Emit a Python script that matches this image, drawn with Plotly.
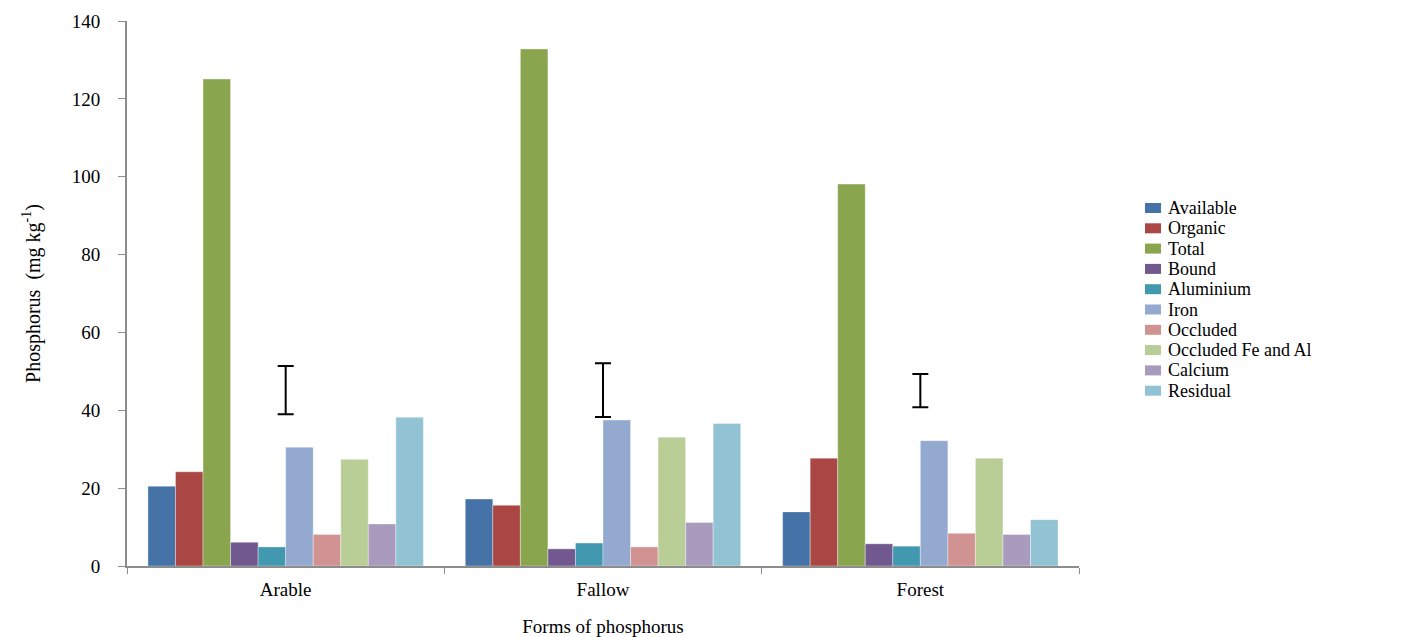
import plotly.graph_objects as go

# Land-use categories on the x axis
categories = ["Arable", "Fallow", "Forest"]

# Phosphorus forms (mg kg-1) for each land use
available = [20.5, 17.2, 13.9]
organic = [24.2, 15.6, 27.7]
total = [125.1, 132.8, 98.1]
bound = [6.1, 4.4, 5.7]
aluminium = [4.9, 5.9, 5.1]
iron = [30.5, 37.5, 32.2]
occluded = [8.1, 4.9, 8.4]
occluded_fe_al = [27.4, 33.1, 27.7]
calcium = [10.8, 11.2, 8.1]
residual = [38.2, 36.6, 11.9]

# Error bar drawn at each land-use centre (midpoint and half-range)
err_mid = [45.2, 45.2, 45.05]
err_half = [6.2, 6.9, 4.3]

series = [
    ("Available", available, "#4572A7"),
    ("Organic", organic, "#AA4643"),
    ("Total", total, "#89A54E"),
    ("Bound", bound, "#71588F"),
    ("Aluminium", aluminium, "#4198AF"),
    ("Iron", iron, "#93A9D0"),
    ("Occluded", occluded, "#D09392"),
    ("Occluded Fe and Al", occluded_fe_al, "#B9CD96"),
    ("Calcium", calcium, "#A99BBD"),
    ("Residual", residual, "#92C3D4"),
]

serif = "Liberation Serif, Times New Roman, serif"

fig = go.Figure()
for name, vals, color in series:
    fig.add_trace(go.Bar(
        x=categories, y=vals, name=name, showlegend=False,
        marker=dict(color=color, line=dict(color="rgba(255,255,255,0.6)", width=0.6)),
    ))

fig.add_trace(go.Scatter(
    x=categories, y=err_mid, mode="markers",
    marker=dict(size=1, color="rgba(0,0,0,0)"),
    error_y=dict(type="data", array=err_half, color="black", thickness=2, width=8),
    showlegend=False, hoverinfo="skip",
))

# Compact legend to the right of the plot: small swatch + label per series
plot_w, plot_h = 952, 545
legend_x_px, legend_top_px, row_px = 1018, 358, 20.3   # offsets measured from plot origin
shapes, annotations = [], []
for i, (name, _, color) in enumerate(series):
    yc = (legend_top_px - row_px * i) / plot_h
    shapes.append(dict(
        type="rect", xref="paper", yref="paper", layer="above",
        x0=legend_x_px / plot_w, x1=(legend_x_px + 16) / plot_w,
        y0=yc - 5 / plot_h, y1=yc + 5 / plot_h,
        fillcolor=color, line=dict(width=0),
    ))
    annotations.append(dict(
        text=name, xref="paper", yref="paper",
        x=(legend_x_px + 21) / plot_w, y=yc, xanchor="left", yanchor="middle",
        height=20, showarrow=False, font=dict(family=serif, size=18, color="black"),
    ))

fig.update_layout(
    width=1420, height=637,
    margin=dict(l=127, r=341, t=21, b=71),
    paper_bgcolor="white", plot_bgcolor="white",
    barmode="group", bargap=0.132, bargroupgap=0,
    font=dict(family=serif, color="black", size=19),
    showlegend=False,
    shapes=shapes, annotations=annotations,
    xaxis=dict(
        automargin=False,
        showline=True, linecolor="#8c8c8c", linewidth=2,
        ticks="outside", tickson="boundaries", tickcolor="#8c8c8c", ticklen=6,
        ticklabelstandoff=5,
        tickfont=dict(family=serif, size=19),
        title=dict(text="Forms of phosphorus", font=dict(family=serif, size=19), standoff=24),
        showgrid=False,
    ),
    yaxis=dict(
        automargin=False,
        range=[0, 140], dtick=20,
        showline=True, linecolor="#8c8c8c", linewidth=2,
        ticks="outside", tickcolor="#8c8c8c", ticklen=7,
        ticklabelstandoff=14,
        tickfont=dict(family=serif, size=19),
        title=dict(text="Phosphorus  (mg kg<sup>-1</sup>)", font=dict(family=serif, size=20), standoff=26),
        showgrid=False, zeroline=False,
    ),
)

fig.write_html("out.html")
